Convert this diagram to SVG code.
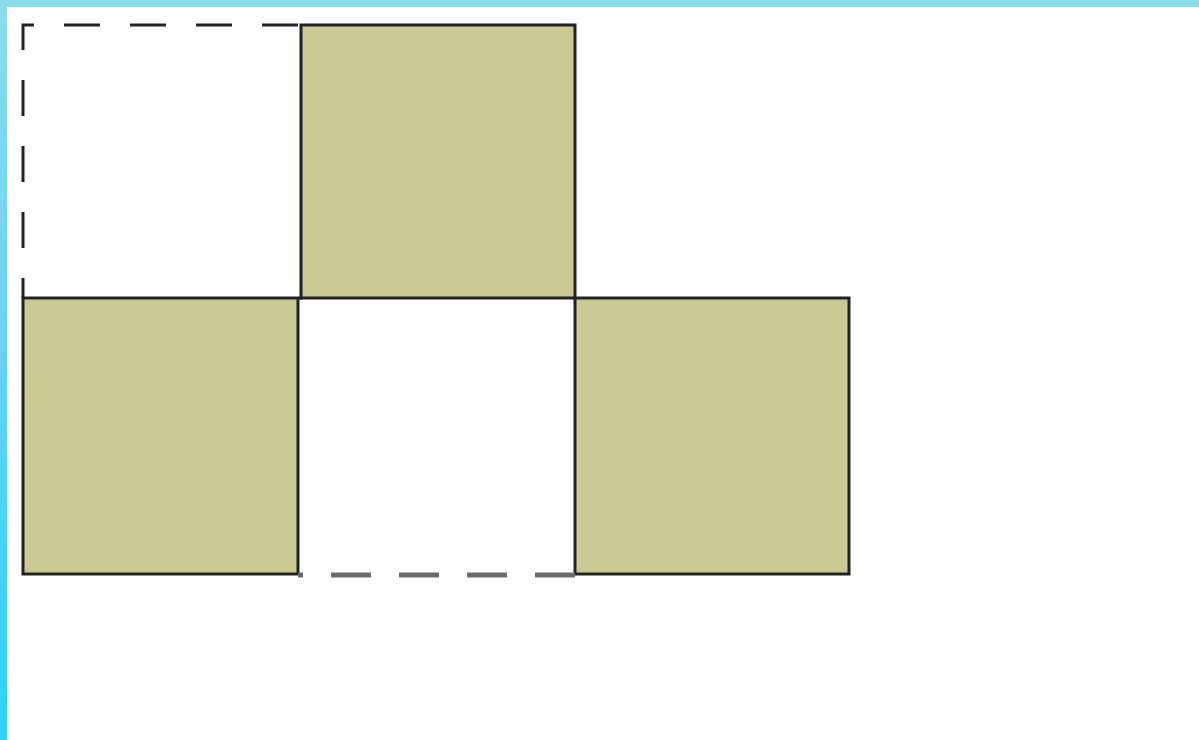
<svg xmlns="http://www.w3.org/2000/svg" width="1199" height="740" viewBox="0 0 1199 740">
<style>
.sq{fill:#cac996;stroke:none}
.solid{stroke:#222;stroke-width:3;fill:none;stroke-linecap:square}
.dash{stroke:#222;stroke-width:3;fill:none;stroke-dasharray:36 30}
.dashg{stroke:#6b6b6b;stroke-width:5;fill:none;stroke-dasharray:40 28}
</style>
<defs>
<linearGradient id="lg" x1="0" y1="0" x2="0" y2="1">
<stop offset="0" stop-color="#8ddbe8"/>
<stop offset="1" stop-color="#33cff6"/>
</linearGradient>
</defs>
<rect width="1199" height="740" fill="#fff"/>
<rect x="0" y="0" width="1199" height="7" fill="#8ddbe8"/>
<rect x="0" y="0" width="7" height="740" fill="url(#lg)"/>
<g id="square-top"><rect class="sq" x="301" y="25" width="274" height="273"/></g>
<g id="square-left"><rect class="sq" x="23" y="298" width="275" height="276"/></g>
<g id="square-right"><rect class="sq" x="575" y="298" width="274" height="276"/></g>
<g id="lines">
<path class="solid" d="M301 298V25H575V298"/>
<path class="solid" d="M23 298H849V574H575V298M298 298V574H23V298"/>
<path class="dash" d="M298 25H23V298"/>
<path class="dashg" d="M575 575H298" stroke-dashoffset="0"/>
</g>
</svg>
